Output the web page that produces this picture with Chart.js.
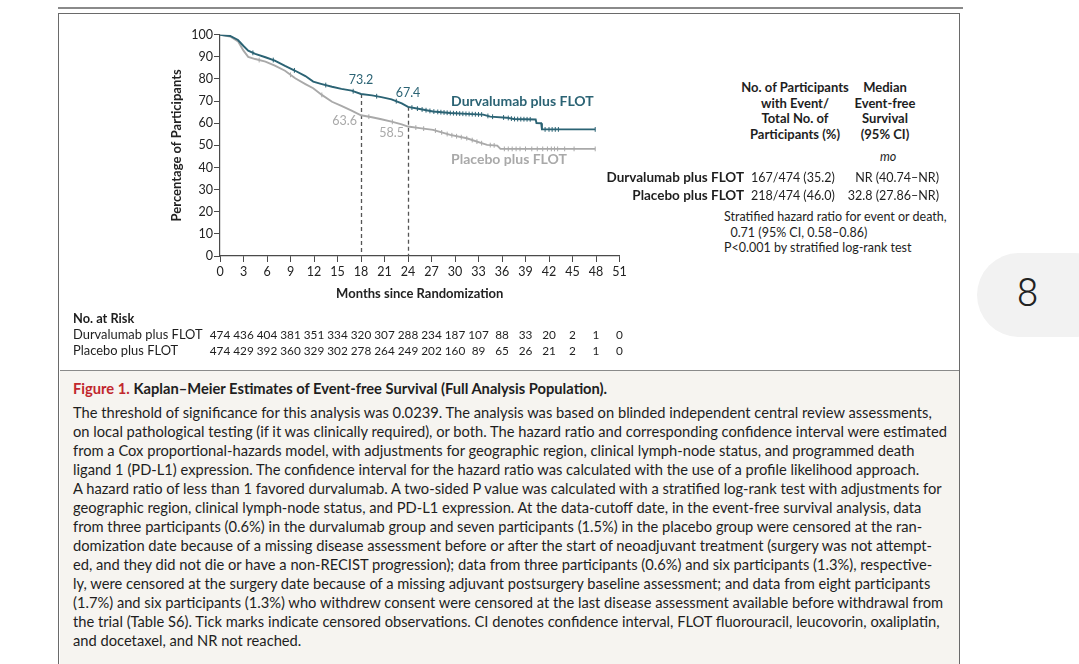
<!DOCTYPE html>
<html>
<head>
<meta charset="utf-8">
<script src="https://cdn.jsdelivr.net/npm/chart.js@4.4.1/dist/chart.umd.min.js"></script>
<style>
  body { margin: 0; width: 1079px; height: 664px; background: #fff; position: relative; overflow: hidden; font-family: Lato, "Noto Sans", sans-serif; color: #1e1e1e; }
  .abs { position: absolute; white-space: nowrap; }
  #topline { left: 58px; top: 7px; width: 905px; height: 2px; background: #8a8a8a; }
  #frame { left: 58px; top: 13px; width: 900px; height: 700px; border: 1.5px solid #6a6a6a; }
  #capbox { left: 59.5px; top: 370px; width: 899px; height: 300px; background: #f6f4f0; border-top: 1px solid #8a8a8a; }
  #km { left: 60px; top: 16px; }
  .hd { font-weight: bold; font-size: 13px; text-align: center; line-height: 15.5px; }
  .sm { font-size: 12.5px; }
  #pill { left: 977px; top: 253px; width: 140px; height: 84px; border-radius: 42px; background: #f2f2f2; }
  #pill span { position: absolute; left: 40px; top: 18px; font-size: 38px; font-family: Roboto, sans-serif; font-weight: 300; color: #222; }
  #caption { left: 73px; top: 379px; font-size: 14.7px; line-height: 19px; }
  #caption b { font-weight: bold; }
  #caption .fig { color: #c1272d; font-weight: bold; }
</style>
</head>
<body>
<div class="abs" id="topline"></div>
<div class="abs" id="frame"></div>
<div class="abs" id="capbox"></div>
<canvas class="abs" id="km" width="580" height="350"></canvas>

<div class="abs hd" style="left:735px;top:80px;width:120px;">No. of Participants<br>with Event/<br>Total No. of<br>Participants (%)</div>
<div class="abs hd" style="left:845px;top:80px;width:80px;">Median<br>Event-free<br>Survival<br>(95% CI)</div>
<div class="abs sm" style="left:880px;top:149px;font-style:italic;">mo</div>
<div class="abs" style="left:560px;top:169px;width:184px;text-align:right;font-weight:bold;font-size:13.5px;">Durvalumab plus FLOT</div>
<div class="abs" style="left:560px;top:187px;width:184px;text-align:right;font-weight:bold;font-size:13.5px;">Placebo plus FLOT</div>
<div class="abs sm" style="left:751px;top:170px;">167/474 (35.2)</div>
<div class="abs sm" style="left:751px;top:188px;">218/474 (46.0)</div>
<div class="abs sm" style="left:797px;top:170px;width:142px;text-align:right;">NR (40.74–NR)</div>
<div class="abs sm" style="left:797px;top:188px;width:142px;text-align:right;">32.8 (27.86–NR)</div>
<div class="abs sm" style="left:724px;top:209px;line-height:15.5px;">Stratified hazard ratio for event or death,<br>&nbsp;&nbsp;0.71 (95% CI, 0.58–0.86)<br>P&lt;0.001 by stratified log-rank test</div>

<div class="abs" id="pill"><span>8</span></div>

<div class="abs" id="caption"><span class="fig">Figure 1.</span> <b>Kaplan–Meier Estimates of Event-free Survival (Full Analysis Population).</b><br>
<div style="margin-top:5px;">The threshold of significance for this analysis was 0.0239. The analysis was based on blinded independent central review assessments,<br>
on local pathological testing (if it was clinically required), or both. The hazard ratio and corresponding confidence interval were estimated<br>
from a Cox proportional-hazards model, with adjustments for geographic region, clinical lymph-node status, and programmed death<br>
ligand 1 (PD-L1) expression. The confidence interval for the hazard ratio was calculated with the use of a profile likelihood approach.<br>
A hazard ratio of less than 1 favored durvalumab. A two-sided P value was calculated with a stratified log-rank test with adjustments for<br>
geographic region, clinical lymph-node status, and PD-L1 expression. At the data-cutoff date, in the event-free survival analysis, data<br>
from three participants (0.6%) in the durvalumab group and seven participants (1.5%) in the placebo group were censored at the ran-<br>
domization date because of a missing disease assessment before or after the start of neoadjuvant treatment (surgery was not attempt-<br>
ed, and they did not die or have a non-RECIST progression); data from three participants (0.6%) and six participants (1.3%), respective-<br>
ly, were censored at the surgery date because of a missing adjuvant postsurgery baseline assessment; and data from eight participants<br>
(1.7%) and six participants (1.3%) who withdrew consent were censored at the last disease assessment available before withdrawal from<br>
the trial (Table S6). Tick marks indicate censored observations. CI denotes confidence interval, FLOT fluorouracil, leucovorin, oxaliplatin,<br>
and docetaxel, and NR not reached.</div></div>

<script>
// curve values (months, % event-free)
let durvaTime = [0, 1.3, 2.3, 3.0, 3.6, 4.5, 5.8, 7.0, 8.3, 9.6, 10.9, 11.9, 13.0, 14.3, 15.5, 16.8, 18.0, 19.4, 20.6, 21.9, 23.2, 24.0, 25.5, 27.2, 29.4, 31.5, 33.6, 34.5, 36.6, 37.5, 40.3, 40.4, 41.0, 41.1, 47.9];
let durvaPct = [100, 99.4, 97.6, 94.9, 92.8, 91.3, 89.8, 88.3, 85.9, 83.7, 81.3, 78.8, 77.7, 76.5, 75.5, 74.7, 73.2, 72.6, 71.8, 70.8, 69.0, 67.4, 66.4, 65.3, 64.6, 64.2, 63.9, 63.0, 62.5, 61.9, 61.7, 60.1, 60.0, 57.2, 57.2];

let placeboTime = [0, 1.3, 2.3, 3.0, 3.6, 4.5, 5.8, 7.0, 8.3, 9.6, 10.9, 11.9, 13.0, 14.3, 15.5, 16.8, 18.0, 19.4, 20.6, 21.9, 23.2, 24.0, 25.5, 27.2, 29.4, 31.5, 33.2, 34.1, 35.4, 35.8, 47.9];
let placeboPct = [100, 99.2, 97.0, 92.8, 90.0, 89.0, 87.8, 86.0, 83.7, 80.3, 77.7, 75.8, 72.8, 69.7, 67.8, 65.7, 63.6, 62.7, 61.8, 60.7, 59.5, 58.5, 57.8, 57.0, 54.7, 53.2, 51.2, 50.2, 49.9, 48.4, 48.4];

// censoring tick times
let durvaCensor = [4.2, 6.8, 9.5, 13.5, 17, 20, 22.5, 24.5, 25.2, 25.8, 26.3, 26.8, 27.3, 27.8, 28.2, 28.6, 29, 29.4, 29.8, 30.2, 30.6, 31, 31.4, 31.8, 32.2, 32.6, 33, 33.4, 34.2, 34.8, 36.2, 36.8, 37.2, 37.6, 38, 38.4, 38.8, 39.2, 39.6, 41.5, 42, 42.4, 42.8, 43.2, 47.9];
let placeboCensor = [5, 9, 13, 19, 22, 25, 26, 27.5, 28.3, 29, 29.6, 30.2, 30.8, 31.5, 32.2, 32.8, 33.4, 34.5, 35, 36.3, 36.8, 37.3, 37.8, 38.3, 39, 39.8, 40.5, 41.2, 41.8, 42.3, 42.7, 43.1, 44, 45.2, 47.9];

let landmarkMonths = [18, 24];
let durvaLandmark = [73.2, 67.4];
let placeboLandmark = [63.6, 58.5];

let riskMonths = [0, 3, 6, 9, 12, 15, 18, 21, 24, 27, 30, 33, 36, 39, 42, 45, 48, 51];
let durvaRisk = [474, 436, 404, 381, 351, 334, 320, 307, 288, 234, 187, 107, 88, 33, 20, 2, 1, 0];
let placeboRisk = [474, 429, 392, 360, 329, 302, 278, 264, 249, 202, 160, 89, 65, 26, 21, 2, 1, 0];

let teal = '#2b6374';
let gray = '#a9a9a9';
let axisColor = '#4a4a4a';
let fontFamily = 'Lato, "Noto Sans", sans-serif';

function toPoints(times, values) {
  return times.map((t, i) => ({ x: t, y: values[i] }));
}

// place a censor tick on the drawn curve
function onCurve(times, values, t) {
  for (let i = 1; i < times.length; i++) {
    if (t <= times[i]) {
      let f = (t - times[i - 1]) / (times[i] - times[i - 1] || 1);
      return values[i - 1] + f * (values[i] - values[i - 1]);
    }
  }
  return values[values.length - 1];
}

function censorPoints(times, values, censor) {
  return censor.map(t => ({ x: t, y: onCurve(times, values, t) }));
}

let extras = {
  id: 'extras',
  beforeDatasetsDraw(chart) {
    let { ctx, scales: { x, y } } = chart;
    ctx.save();
    ctx.setLineDash([4, 3]);
    ctx.strokeStyle = '#555';
    ctx.lineWidth = 1.3;
    landmarkMonths.forEach((m, i) => {
      let px = Math.round(x.getPixelForValue(m)) + 0.5;
      ctx.beginPath();
      ctx.moveTo(px, y.getPixelForValue(durvaLandmark[i]));
      ctx.lineTo(px, y.getPixelForValue(0));
      ctx.stroke();
    });
    ctx.restore();
  },
  afterDraw(chart) {
    let { ctx, scales: { x, y } } = chart;
    ctx.save();
    ctx.textBaseline = 'middle';

    // landmark values
    ctx.font = '12.5px ' + fontFamily;
    landmarkMonths.forEach((m, i) => {
      let px = x.getPixelForValue(m);
      ctx.fillStyle = teal;
      ctx.textAlign = 'center';
      ctx.fillText(durvaLandmark[i].toFixed(1), px, y.getPixelForValue(durvaLandmark[i]) - 14);
      ctx.fillStyle = gray;
      ctx.textAlign = 'right';
      ctx.fillText(placeboLandmark[i].toFixed(1), px - 4, y.getPixelForValue(placeboLandmark[i]) + 6);
    });

    // curve names
    ctx.font = 'bold 14px ' + fontFamily;
    ctx.textAlign = 'left';
    ctx.fillStyle = teal;
    ctx.fillText('Durvalumab plus FLOT', x.getPixelForValue(29.5), y.getPixelForValue(69.6));
    ctx.fillStyle = gray;
    ctx.fillText('Placebo plus FLOT', x.getPixelForValue(29.5), y.getPixelForValue(43.4));

    // number at risk
    let rowY = [303, 319, 335];
    ctx.fillStyle = '#1e1e1e';
    ctx.font = 'bold 12.8px ' + fontFamily;
    ctx.fillText('No. at Risk', 13, rowY[0]);
    ctx.font = '12.9px ' + fontFamily;
    ctx.fillText('Durvalumab plus FLOT', 13, rowY[1]);
    ctx.fillText('Placebo plus FLOT', 13, rowY[2]);
    ctx.font = '11.8px ' + fontFamily;
    ctx.textAlign = 'center';
    riskMonths.forEach((m, i) => {
      let px = x.getPixelForValue(m);
      ctx.fillText(durvaRisk[i], px, rowY[1]);
      ctx.fillText(placeboRisk[i], px, rowY[2]);
    });
    ctx.restore();
  }
};

let kmChart = new Chart(document.getElementById('km').getContext('2d'), {
  type: 'line',
  data: {
    datasets: [{
      label: 'Durvalumab plus FLOT',
      data: toPoints(durvaTime, durvaPct),
      borderColor: teal,
      borderWidth: 1.9,
      pointRadius: 0,
      tension: 0
    }, {
      label: 'Placebo plus FLOT',
      data: toPoints(placeboTime, placeboPct),
      borderColor: gray,
      borderWidth: 1.9,
      pointRadius: 0,
      tension: 0
    }, {
      label: 'Durvalumab censored',
      data: censorPoints(durvaTime, durvaPct, durvaCensor),
      showLine: false,
      pointStyle: 'line',
      rotation: 90,
      pointRadius: 2.4,
      borderWidth: 1,
      borderColor: teal
    }, {
      label: 'Placebo censored',
      data: censorPoints(placeboTime, placeboPct, placeboCensor),
      showLine: false,
      pointStyle: 'line',
      rotation: 90,
      pointRadius: 2.4,
      borderWidth: 1,
      borderColor: gray
    }]
  },
  options: {
    responsive: false,
    animation: false,
    events: [],
    layout: { padding: { left: 105, right: 20.5, top: 18.7, bottom: 60 } },
    plugins: { legend: { display: false }, tooltip: { enabled: false } },
    scales: {
      x: {
        type: 'linear',
        min: 0,
        max: 51,
        afterFit: s => { s.height = 50; },
        grid: { drawOnChartArea: false, tickLength: 6, color: axisColor },
        border: { color: axisColor, width: 1.2 },
        ticks: { stepSize: 3, autoSkip: false, maxRotation: 0, padding: 2, color: '#222', font: { family: fontFamily, size: 12.5 } },
        title: { display: true, text: 'Months since Randomization', color: '#222', font: { family: fontFamily, size: 13, weight: 'bold' }, padding: { top: 4, bottom: 4 } }
      },
      y: {
        min: 0,
        max: 100,
        afterFit: s => { s.width = 55; },
        grid: { drawOnChartArea: false, tickLength: 6, color: axisColor },
        border: { color: axisColor, width: 1.2 },
        ticks: { stepSize: 10, padding: 1, color: '#222', font: { family: fontFamily, size: 12.5 } },
        title: { display: true, text: 'Percentage of Participants', color: '#222', font: { family: fontFamily, size: 13, weight: 'bold' }, padding: { top: 4, bottom: 4 } }
      }
    }
  },
  plugins: [extras]
});
</script>
</body>
</html>
